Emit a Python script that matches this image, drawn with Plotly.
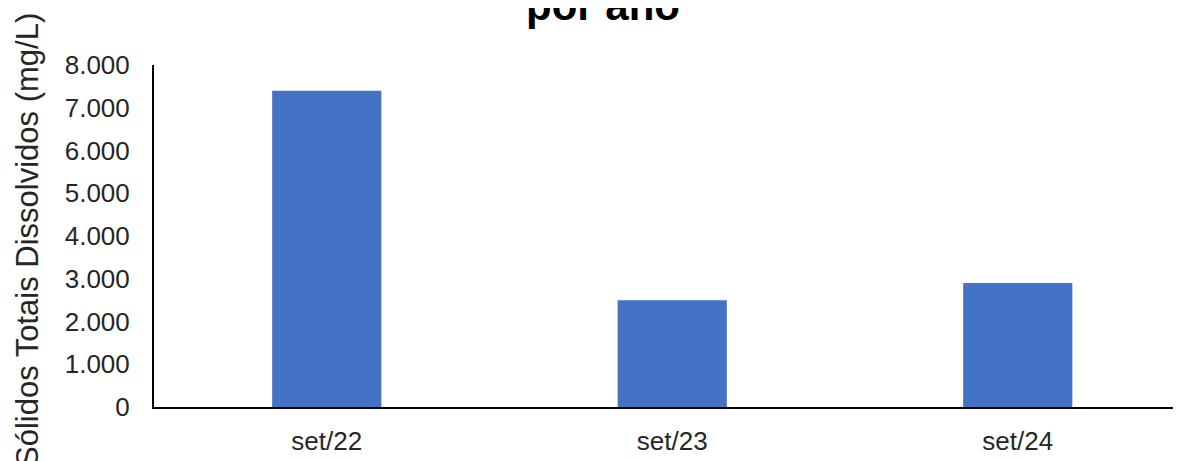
import plotly.graph_objects as go

categories = ["set/22", "set/23", "set/24"]
values = [7400, 2500, 2900]
y_ticks = [0, 1000, 2000, 3000, 4000, 5000, 6000, 7000, 8000]

# the page body adds an 8px offset; margins are set to compensate
W, H = 1200, 453
L, R, T, B = 146, 0, 57, 54
plot_w = W - L - R
plot_h = H - T - B
cat_step = 345.5

fig = go.Figure(go.Bar(x=categories, y=values, marker=dict(color="#4472C4", line=dict(width=0))))

font = "Liberation Sans, Arial, sans-serif"
fig.update_layout(
    width=W, height=H,
    margin=dict(l=L, r=R, t=T, b=B, pad=0),
    paper_bgcolor="white", plot_bgcolor="white",
    separators=",.",
    bargap=0.684,
    showlegend=False,
    font=dict(family=font, color="#262626"),
    title=dict(text="<b>por ano</b>", font=dict(family=font, size=42, color="#000000"),
               x=595 / W, xanchor="center", xref="container",
               y=1.0 - 12 / H, yanchor="bottom", yref="container", pad=dict(t=0, b=0)),
)
fig.update_xaxes(
    type="category", range=[-0.5, -0.5 + plot_w / cat_step],
    showline=True, linecolor="#000000", linewidth=2, showgrid=False,
    ticks="", tickfont=dict(size=26, color="#262626"), ticklabelstandoff=10,
    fixedrange=True,
)
fig.update_yaxes(
    range=[0, 8000], tickvals=y_ticks, tickformat=",d",
    showline=True, linecolor="#000000", linewidth=2, showgrid=False, zeroline=False,
    ticks="", tickfont=dict(size=26, color="#262626"), ticklabelstandoff=17,
    fixedrange=True,
)
fig.add_annotation(
    text="Sólidos Totais Dissolvidos (mg/L)", textangle=-90,
    xref="paper", yref="paper", x=(19 - L) / plot_w, y=(H - B - 232) / plot_h,
    xanchor="center", yanchor="middle", showarrow=False,
    font=dict(family=font, size=31, color="#262626"),
)
fig.write_html("out.html")
